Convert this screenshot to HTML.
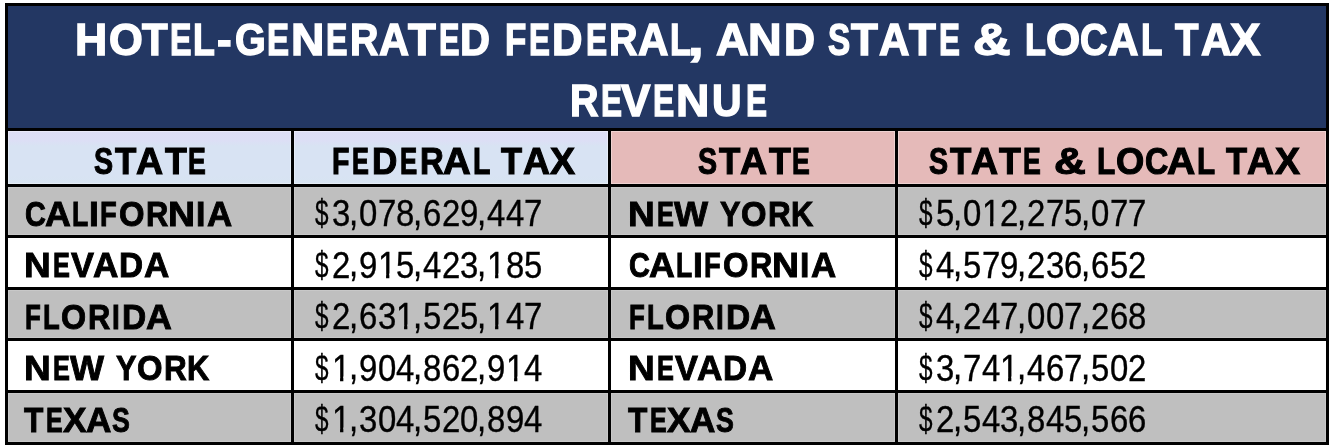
<!DOCTYPE html>
<html><head><meta charset="utf-8"><title>Hotel-Generated Federal, and State &amp; Local Tax Revenue</title><style>
html,body{margin:0;padding:0;background:#fff;width:1335px;height:448px;overflow:hidden}
.box{position:absolute;left:5px;top:3px;width:1324px;height:442px;background:#000}
.c{position:absolute}
.tl{position:absolute;left:0;top:0;width:1335px;height:448px;will-change:transform}
.t{position:absolute;font-family:"Liberation Sans",sans-serif;line-height:1;white-space:pre;transform-origin:0 0}
.cm{transform-origin:0 .85em}
.one{clip-path:polygon(0 0,100% 0,100% .7em,.345em .7em,.345em 100%,.245em 100%,.245em .7em,0 .7em)}
</style></head><body>
<div class="box"></div>
<div class="c" style="left:8px;top:6px;width:1318px;height:122px;background:#233763"></div>
<div class="c" style="left:8px;top:131px;width:283px;height:53px;background:#D8E3F3;box-shadow:inset 0 0 0 1px rgba(255,255,255,0.35)"></div>
<div class="c" style="left:294px;top:131px;width:314px;height:53px;background:#D8E3F3;box-shadow:inset 0 0 0 1px rgba(255,255,255,0.35)"></div>
<div class="c" style="left:611px;top:131px;width:284px;height:53px;background:#E5BAB9;box-shadow:inset 0 0 0 1px rgba(255,255,255,0.35)"></div>
<div class="c" style="left:898px;top:131px;width:428px;height:53px;background:#E5BAB9;box-shadow:inset 0 0 0 1px rgba(255,255,255,0.35)"></div>
<div class="c" style="left:8px;top:131px;width:283px;height:53px;background:linear-gradient(#DDDEF5 0px,#DCDFF5 10px,#D8E3F3 15px,#D8E3F3 44px,#D7E4F1 53px);box-shadow:inset 0 0 0 1px rgba(255,255,255,0.35)"></div>
<div class="c" style="left:294px;top:131px;width:314px;height:53px;background:linear-gradient(#DDDEF5 0px,#DCDFF5 10px,#D8E3F3 15px,#D8E3F3 44px,#D7E4F1 53px);box-shadow:inset 0 0 0 1px rgba(255,255,255,0.35)"></div>
<div class="c" style="left:8px;top:187px;width:283px;height:48px;background:#BFBFBF;box-shadow:inset 0 0 0 1px rgba(255,255,255,0.15)"></div>
<div class="c" style="left:294px;top:187px;width:314px;height:48px;background:#BFBFBF;box-shadow:inset 0 0 0 1px rgba(255,255,255,0.15)"></div>
<div class="c" style="left:611px;top:187px;width:284px;height:48px;background:#BFBFBF;box-shadow:inset 0 0 0 1px rgba(255,255,255,0.15)"></div>
<div class="c" style="left:898px;top:187px;width:428px;height:48px;background:#BFBFBF;box-shadow:inset 0 0 0 1px rgba(255,255,255,0.15)"></div>
<div class="c" style="left:8px;top:238px;width:283px;height:49px;background:#fff"></div>
<div class="c" style="left:294px;top:238px;width:314px;height:49px;background:#fff"></div>
<div class="c" style="left:611px;top:238px;width:284px;height:49px;background:#fff"></div>
<div class="c" style="left:898px;top:238px;width:428px;height:49px;background:#fff"></div>
<div class="c" style="left:8px;top:290px;width:283px;height:48px;background:#BFBFBF;box-shadow:inset 0 0 0 1px rgba(255,255,255,0.15)"></div>
<div class="c" style="left:294px;top:290px;width:314px;height:48px;background:#BFBFBF;box-shadow:inset 0 0 0 1px rgba(255,255,255,0.15)"></div>
<div class="c" style="left:611px;top:290px;width:284px;height:48px;background:#BFBFBF;box-shadow:inset 0 0 0 1px rgba(255,255,255,0.15)"></div>
<div class="c" style="left:898px;top:290px;width:428px;height:48px;background:#BFBFBF;box-shadow:inset 0 0 0 1px rgba(255,255,255,0.15)"></div>
<div class="c" style="left:8px;top:341px;width:283px;height:49px;background:#fff"></div>
<div class="c" style="left:294px;top:341px;width:314px;height:49px;background:#fff"></div>
<div class="c" style="left:611px;top:341px;width:284px;height:49px;background:#fff"></div>
<div class="c" style="left:898px;top:341px;width:428px;height:49px;background:#fff"></div>
<div class="c" style="left:8px;top:393px;width:283px;height:49px;background:#BFBFBF;box-shadow:inset 0 0 0 1px rgba(255,255,255,0.15)"></div>
<div class="c" style="left:294px;top:393px;width:314px;height:49px;background:#BFBFBF;box-shadow:inset 0 0 0 1px rgba(255,255,255,0.15)"></div>
<div class="c" style="left:611px;top:393px;width:284px;height:49px;background:#BFBFBF;box-shadow:inset 0 0 0 1px rgba(255,255,255,0.15)"></div>
<div class="c" style="left:898px;top:393px;width:428px;height:49px;background:#BFBFBF;box-shadow:inset 0 0 0 1px rgba(255,255,255,0.15)"></div>
<div class="tl">
<span class="t" style="left:74.66px;top:19.00px;font-size:43.6px;font-weight:700;color:#fff;-webkit-text-stroke:1.4px #fff;transform:scaleX(1.0222)">H</span>
<span class="t" style="left:108.50px;top:19.00px;font-size:43.6px;font-weight:700;color:#fff;-webkit-text-stroke:1.4px #fff;transform:scaleX(0.9969)">O</span>
<span class="t" style="left:141.80px;top:19.00px;font-size:43.6px;font-weight:700;color:#fff;-webkit-text-stroke:1.4px #fff;transform:scaleX(0.9630)">T</span>
<span class="t" style="left:170.22px;top:19.00px;font-size:43.6px;font-weight:700;color:#fff;-webkit-text-stroke:1.4px #fff;transform:scaleX(0.7385)">E</span>
<span class="t" style="left:193.46px;top:19.00px;font-size:43.6px;font-weight:700;color:#fff;-webkit-text-stroke:1.4px #fff;transform:scaleX(0.8208)">L</span>
<span class="t" style="left:217.09px;top:19.00px;font-size:43.6px;font-weight:700;color:#fff;-webkit-text-stroke:1.4px #fff;transform:scaleX(1.0077)">-</span>
<span class="t" style="left:234.69px;top:19.00px;font-size:43.6px;font-weight:700;color:#fff;-webkit-text-stroke:1.4px #fff;transform:scaleX(0.9065)">G</span>
<span class="t" style="left:266.88px;top:19.00px;font-size:43.6px;font-weight:700;color:#fff;-webkit-text-stroke:1.4px #fff;transform:scaleX(0.7577)">E</span>
<span class="t" style="left:290.68px;top:19.00px;font-size:43.6px;font-weight:700;color:#fff;-webkit-text-stroke:1.4px #fff;transform:scaleX(1.0593)">N</span>
<span class="t" style="left:326.02px;top:19.00px;font-size:43.6px;font-weight:700;color:#fff;-webkit-text-stroke:1.4px #fff;transform:scaleX(0.7385)">E</span>
<span class="t" style="left:350.09px;top:19.00px;font-size:43.6px;font-weight:700;color:#fff;-webkit-text-stroke:1.4px #fff;transform:scaleX(0.9034)">R</span>
<span class="t" style="left:379.00px;top:19.00px;font-size:43.6px;font-weight:700;color:#fff;-webkit-text-stroke:1.4px #fff;transform:scaleX(0.9548)">A</span>
<span class="t" style="left:408.40px;top:19.00px;font-size:43.6px;font-weight:700;color:#fff;-webkit-text-stroke:1.4px #fff;transform:scaleX(1.0444)">T</span>
<span class="t" style="left:438.89px;top:19.00px;font-size:43.6px;font-weight:700;color:#fff;-webkit-text-stroke:1.4px #fff;transform:scaleX(0.7038)">E</span>
<span class="t" style="left:460.39px;top:19.00px;font-size:43.6px;font-weight:700;color:#fff;-webkit-text-stroke:1.4px #fff;transform:scaleX(0.9536)">D</span>
<span class="t" style="left:505.40px;top:19.00px;font-size:43.6px;font-weight:700;color:#fff;-webkit-text-stroke:1.4px #fff;transform:scaleX(0.8000)">F</span>
<span class="t" style="left:529.06px;top:19.00px;font-size:43.6px;font-weight:700;color:#fff;-webkit-text-stroke:1.4px #fff;transform:scaleX(0.7192)">E</span>
<span class="t" style="left:552.46px;top:19.00px;font-size:43.6px;font-weight:700;color:#fff;-webkit-text-stroke:1.4px #fff;transform:scaleX(0.9679)">D</span>
<span class="t" style="left:585.85px;top:19.00px;font-size:43.6px;font-weight:700;color:#fff;-webkit-text-stroke:1.4px #fff;transform:scaleX(0.7269)">E</span>
<span class="t" style="left:609.09px;top:19.00px;font-size:43.6px;font-weight:700;color:#fff;-webkit-text-stroke:1.4px #fff;transform:scaleX(0.9069)">R</span>
<span class="t" style="left:637.60px;top:19.00px;font-size:43.6px;font-weight:700;color:#fff;-webkit-text-stroke:1.4px #fff;transform:scaleX(0.9677)">A</span>
<span class="t" style="left:669.92px;top:19.00px;font-size:43.6px;font-weight:700;color:#fff;-webkit-text-stroke:1.4px #fff;transform:scaleX(0.7875)">L</span>
<span class="t" style="left:688.42px;top:19.00px;font-size:43.6px;font-weight:700;color:#fff;-webkit-text-stroke:1.4px #fff;transform:scaleX(1.2875)">,</span>
<span class="t" style="left:715.80px;top:19.00px;font-size:43.6px;font-weight:700;color:#fff;-webkit-text-stroke:1.4px #fff;transform:scaleX(1.0387)">A</span>
<span class="t" style="left:748.47px;top:19.00px;font-size:43.6px;font-weight:700;color:#fff;-webkit-text-stroke:1.4px #fff;transform:scaleX(1.0667)">N</span>
<span class="t" style="left:783.53px;top:19.00px;font-size:43.6px;font-weight:700;color:#fff;-webkit-text-stroke:1.4px #fff;transform:scaleX(0.9857)">D</span>
<span class="t" style="left:828.14px;top:19.00px;font-size:43.6px;font-weight:700;color:#fff;-webkit-text-stroke:1.4px #fff;transform:scaleX(0.7630)">S</span>
<span class="t" style="left:850.90px;top:19.00px;font-size:43.6px;font-weight:700;color:#fff;-webkit-text-stroke:1.4px #fff;transform:scaleX(1.0074)">T</span>
<span class="t" style="left:878.60px;top:19.00px;font-size:43.6px;font-weight:700;color:#fff;-webkit-text-stroke:1.4px #fff;transform:scaleX(0.9677)">A</span>
<span class="t" style="left:909.40px;top:19.00px;font-size:43.6px;font-weight:700;color:#fff;-webkit-text-stroke:1.4px #fff;transform:scaleX(1.0074)">T</span>
<span class="t" style="left:938.86px;top:19.00px;font-size:43.6px;font-weight:700;color:#fff;-webkit-text-stroke:1.4px #fff;transform:scaleX(0.7192)">E</span>
<span class="t" style="left:973.01px;top:19.00px;font-size:43.6px;font-weight:700;color:#fff;-webkit-text-stroke:1.4px #fff;transform:scaleX(1.1933)">&amp;</span>
<span class="t" style="left:1024.83px;top:19.00px;font-size:43.6px;font-weight:700;color:#fff;-webkit-text-stroke:1.4px #fff;transform:scaleX(0.7875)">L</span>
<span class="t" style="left:1045.69px;top:19.00px;font-size:43.6px;font-weight:700;color:#fff;-webkit-text-stroke:1.4px #fff;transform:scaleX(1.0094)">O</span>
<span class="t" style="left:1080.02px;top:19.00px;font-size:43.6px;font-weight:700;color:#fff;-webkit-text-stroke:1.4px #fff;transform:scaleX(0.8767)">C</span>
<span class="t" style="left:1108.00px;top:19.00px;font-size:43.6px;font-weight:700;color:#fff;-webkit-text-stroke:1.4px #fff;transform:scaleX(0.9677)">A</span>
<span class="t" style="left:1140.99px;top:19.00px;font-size:43.6px;font-weight:700;color:#fff;-webkit-text-stroke:1.4px #fff;transform:scaleX(0.8042)">L</span>
<span class="t" style="left:1175.20px;top:19.00px;font-size:43.6px;font-weight:700;color:#fff;-webkit-text-stroke:1.4px #fff;transform:scaleX(0.8815)">T</span>
<span class="t" style="left:1200.90px;top:19.00px;font-size:43.6px;font-weight:700;color:#fff;-webkit-text-stroke:1.4px #fff;transform:scaleX(0.9677)">A</span>
<span class="t" style="left:1230.20px;top:19.00px;font-size:43.6px;font-weight:700;color:#fff;-webkit-text-stroke:1.4px #fff;transform:scaleX(1.0467)">X</span>
<span class="t" style="left:570.19px;top:80.00px;font-size:43.6px;font-weight:700;color:#fff;-webkit-text-stroke:1.4px #fff;transform:scaleX(0.9069)">R</span>
<span class="t" style="left:600.55px;top:80.00px;font-size:43.6px;font-weight:700;color:#fff;-webkit-text-stroke:1.4px #fff;transform:scaleX(0.7231)">E</span>
<span class="t" style="left:621.30px;top:80.00px;font-size:43.6px;font-weight:700;color:#fff;-webkit-text-stroke:1.4px #fff;transform:scaleX(1.0133)">V</span>
<span class="t" style="left:653.44px;top:80.00px;font-size:43.6px;font-weight:700;color:#fff;-webkit-text-stroke:1.4px #fff;transform:scaleX(0.7308)">E</span>
<span class="t" style="left:676.48px;top:80.00px;font-size:43.6px;font-weight:700;color:#fff;-webkit-text-stroke:1.4px #fff;transform:scaleX(1.0593)">N</span>
<span class="t" style="left:711.82px;top:80.00px;font-size:43.6px;font-weight:700;color:#fff;-webkit-text-stroke:1.4px #fff;transform:scaleX(0.9393)">U</span>
<span class="t" style="left:745.55px;top:80.00px;font-size:43.6px;font-weight:700;color:#fff;-webkit-text-stroke:1.4px #fff;transform:scaleX(0.7231)">E</span>
<span class="t" style="left:94.13px;top:143.00px;font-size:37.4px;font-weight:700;color:#000;-webkit-text-stroke:1.1px #000;transform:scaleX(0.7652)">S</span>
<span class="t" style="left:115.20px;top:143.00px;font-size:37.4px;font-weight:700;color:#000;-webkit-text-stroke:1.1px #000;transform:scaleX(0.9348)">T</span>
<span class="t" style="left:136.20px;top:143.00px;font-size:37.4px;font-weight:700;color:#000;-webkit-text-stroke:1.1px #000;transform:scaleX(1.0038)">A</span>
<span class="t" style="left:164.60px;top:143.00px;font-size:37.4px;font-weight:700;color:#000;-webkit-text-stroke:1.1px #000;transform:scaleX(0.9565)">T</span>
<span class="t" style="left:188.37px;top:143.00px;font-size:37.4px;font-weight:700;color:#000;-webkit-text-stroke:1.1px #000;transform:scaleX(0.7136)">E</span>
<span class="t" style="left:331.57px;top:143.00px;font-size:37.4px;font-weight:700;color:#000;-webkit-text-stroke:1.1px #000;transform:scaleX(0.7650)">F</span>
<span class="t" style="left:351.65px;top:143.00px;font-size:37.4px;font-weight:700;color:#000;-webkit-text-stroke:1.1px #000;transform:scaleX(0.6773)">E</span>
<span class="t" style="left:371.52px;top:143.00px;font-size:37.4px;font-weight:700;color:#000;-webkit-text-stroke:1.1px #000;transform:scaleX(0.9375)">D</span>
<span class="t" style="left:399.62px;top:143.00px;font-size:37.4px;font-weight:700;color:#000;-webkit-text-stroke:1.1px #000;transform:scaleX(0.6909)">E</span>
<span class="t" style="left:420.14px;top:143.00px;font-size:37.4px;font-weight:700;color:#000;-webkit-text-stroke:1.1px #000;transform:scaleX(0.8800)">R</span>
<span class="t" style="left:443.37px;top:143.00px;font-size:37.4px;font-weight:700;color:#000;-webkit-text-stroke:1.1px #000;transform:scaleX(1.0269)">A</span>
<span class="t" style="left:473.37px;top:143.00px;font-size:37.4px;font-weight:700;color:#000;-webkit-text-stroke:1.1px #000;transform:scaleX(0.7650)">L</span>
<span class="t" style="left:501.40px;top:143.00px;font-size:37.4px;font-weight:700;color:#000;-webkit-text-stroke:1.1px #000;transform:scaleX(0.9217)">T</span>
<span class="t" style="left:522.80px;top:143.00px;font-size:37.4px;font-weight:700;color:#000;-webkit-text-stroke:1.1px #000;transform:scaleX(0.9962)">A</span>
<span class="t" style="left:550.10px;top:143.00px;font-size:37.4px;font-weight:700;color:#000;-webkit-text-stroke:1.1px #000;transform:scaleX(1.0040)">X</span>
<span class="t" style="left:698.03px;top:143.00px;font-size:37.4px;font-weight:700;color:#000;-webkit-text-stroke:1.1px #000;transform:scaleX(0.7652)">S</span>
<span class="t" style="left:719.10px;top:143.00px;font-size:37.4px;font-weight:700;color:#000;-webkit-text-stroke:1.1px #000;transform:scaleX(0.9348)">T</span>
<span class="t" style="left:740.10px;top:143.00px;font-size:37.4px;font-weight:700;color:#000;-webkit-text-stroke:1.1px #000;transform:scaleX(1.0038)">A</span>
<span class="t" style="left:768.50px;top:143.00px;font-size:37.4px;font-weight:700;color:#000;-webkit-text-stroke:1.1px #000;transform:scaleX(0.9565)">T</span>
<span class="t" style="left:792.27px;top:143.00px;font-size:37.4px;font-weight:700;color:#000;-webkit-text-stroke:1.1px #000;transform:scaleX(0.7136)">E</span>
<span class="t" style="left:928.63px;top:143.00px;font-size:37.4px;font-weight:700;color:#000;-webkit-text-stroke:1.1px #000;transform:scaleX(0.7652)">S</span>
<span class="t" style="left:949.70px;top:143.00px;font-size:37.4px;font-weight:700;color:#000;-webkit-text-stroke:1.1px #000;transform:scaleX(0.9348)">T</span>
<span class="t" style="left:970.70px;top:143.00px;font-size:37.4px;font-weight:700;color:#000;-webkit-text-stroke:1.1px #000;transform:scaleX(1.0038)">A</span>
<span class="t" style="left:999.10px;top:143.00px;font-size:37.4px;font-weight:700;color:#000;-webkit-text-stroke:1.1px #000;transform:scaleX(0.9565)">T</span>
<span class="t" style="left:1022.87px;top:143.00px;font-size:37.4px;font-weight:700;color:#000;-webkit-text-stroke:1.1px #000;transform:scaleX(0.7136)">E</span>
<span class="t" style="left:1053.82px;top:143.00px;font-size:37.4px;font-weight:700;color:#000;-webkit-text-stroke:1.1px #000;transform:scaleX(1.1800)">&amp;</span>
<span class="t" style="left:1097.10px;top:143.00px;font-size:37.4px;font-weight:700;color:#000;-webkit-text-stroke:1.1px #000;transform:scaleX(0.8000)">L</span>
<span class="t" style="left:1116.03px;top:143.00px;font-size:37.4px;font-weight:700;color:#000;-webkit-text-stroke:1.1px #000;transform:scaleX(0.9704)">O</span>
<span class="t" style="left:1145.14px;top:143.00px;font-size:37.4px;font-weight:700;color:#000;-webkit-text-stroke:1.1px #000;transform:scaleX(0.8640)">C</span>
<span class="t" style="left:1166.95px;top:143.00px;font-size:37.4px;font-weight:700;color:#000;-webkit-text-stroke:1.1px #000;transform:scaleX(1.0462)">A</span>
<span class="t" style="left:1196.91px;top:143.00px;font-size:37.4px;font-weight:700;color:#000;-webkit-text-stroke:1.1px #000;transform:scaleX(0.7950)">L</span>
<span class="t" style="left:1226.00px;top:143.00px;font-size:37.4px;font-weight:700;color:#000;-webkit-text-stroke:1.1px #000;transform:scaleX(0.9217)">T</span>
<span class="t" style="left:1247.40px;top:143.00px;font-size:37.4px;font-weight:700;color:#000;-webkit-text-stroke:1.1px #000;transform:scaleX(0.9962)">A</span>
<span class="t" style="left:1274.70px;top:143.00px;font-size:37.4px;font-weight:700;color:#000;-webkit-text-stroke:1.1px #000;transform:scaleX(1.0040)">X</span>
<span class="t" style="left:24.56px;top:195.88px;font-size:34.3px;font-weight:700;color:#000;-webkit-text-stroke:0.9px #000;transform:scaleX(0.8435) scaleY(1.03)">C</span>
<span class="t" style="left:45.36px;top:195.88px;font-size:34.3px;font-weight:700;color:#000;-webkit-text-stroke:0.9px #000;transform:scaleX(1.0435) scaleY(1.03)">A</span>
<span class="t" style="left:72.14px;top:195.88px;font-size:34.3px;font-weight:700;color:#000;-webkit-text-stroke:0.9px #000;transform:scaleX(0.7778) scaleY(1.03)">L</span>
<span class="t" style="left:88.93px;top:195.88px;font-size:34.3px;font-weight:700;color:#000;-webkit-text-stroke:0.9px #000;transform:scaleX(1.0333) scaleY(1.03)">I</span>
<span class="t" style="left:100.20px;top:195.88px;font-size:34.3px;font-weight:700;color:#000;-webkit-text-stroke:0.9px #000;transform:scaleX(0.8000) scaleY(1.03)">F</span>
<span class="t" style="left:118.94px;top:195.88px;font-size:34.3px;font-weight:700;color:#000;-webkit-text-stroke:0.9px #000;transform:scaleX(0.9560) scaleY(1.03)">O</span>
<span class="t" style="left:146.00px;top:195.88px;font-size:34.3px;font-weight:700;color:#000;-webkit-text-stroke:0.9px #000;transform:scaleX(0.9000) scaleY(1.03)">R</span>
<span class="t" style="left:168.12px;top:195.88px;font-size:34.3px;font-weight:700;color:#000;-webkit-text-stroke:0.9px #000;transform:scaleX(1.0905) scaleY(1.03)">N</span>
<span class="t" style="left:196.13px;top:195.88px;font-size:34.3px;font-weight:700;color:#000;-webkit-text-stroke:0.9px #000;transform:scaleX(0.9833) scaleY(1.03)">I</span>
<span class="t" style="left:206.58px;top:195.88px;font-size:34.3px;font-weight:700;color:#000;-webkit-text-stroke:0.9px #000;transform:scaleX(1.0174) scaleY(1.03)">A</span>
<span class="t" style="left:628.04px;top:195.88px;font-size:34.3px;font-weight:700;color:#000;-webkit-text-stroke:0.9px #000;transform:scaleX(1.0810) scaleY(1.03)">N</span>
<span class="t" style="left:657.22px;top:195.88px;font-size:34.3px;font-weight:700;color:#000;-webkit-text-stroke:0.9px #000;transform:scaleX(0.7400) scaleY(1.03)">E</span>
<span class="t" style="left:674.40px;top:195.88px;font-size:34.3px;font-weight:700;color:#000;-webkit-text-stroke:0.9px #000;transform:scaleX(1.0515) scaleY(1.03)">W</span>
<span class="t" style="left:719.80px;top:195.88px;font-size:34.3px;font-weight:700;color:#000;-webkit-text-stroke:0.9px #000;transform:scaleX(0.8957) scaleY(1.03)">Y</span>
<span class="t" style="left:740.74px;top:195.88px;font-size:34.3px;font-weight:700;color:#000;-webkit-text-stroke:0.9px #000;transform:scaleX(0.9560) scaleY(1.03)">O</span>
<span class="t" style="left:768.36px;top:195.88px;font-size:34.3px;font-weight:700;color:#000;-webkit-text-stroke:0.9px #000;transform:scaleX(0.9182) scaleY(1.03)">R</span>
<span class="t" style="left:791.10px;top:195.88px;font-size:34.3px;font-weight:700;color:#000;-webkit-text-stroke:0.9px #000;transform:scaleX(0.9000) scaleY(1.03)">K</span>
<span class="t" style="left:314.50px;top:196.25px;font-size:35.5px;font-weight:400;color:#000;-webkit-text-stroke:0.3px #000;transform:scaleX(0.6842) scaleY(1.03)">$</span>
<span class="t" style="left:331.80px;top:196.40px;font-size:35.5px;font-weight:400;color:#000;-webkit-text-stroke:0.35px #000;transform:scaleX(0.9269) scaleY(1.03)">3</span>
<span class="t cm" style="left:348.79px;top:195.90px;font-size:35.5px;font-weight:400;color:#000;-webkit-text-stroke:0.35px #000;transform:scaleX(0.9269) scaleY(1.15)">,</span>
<span class="t" style="left:359.24px;top:196.40px;font-size:35.5px;font-weight:400;color:#000;-webkit-text-stroke:0.35px #000;transform:scaleX(0.9269) scaleY(1.03)">0</span>
<span class="t" style="left:377.54px;top:196.40px;font-size:35.5px;font-weight:400;color:#000;-webkit-text-stroke:0.35px #000;transform:scaleX(0.9269) scaleY(1.03)">7</span>
<span class="t" style="left:395.83px;top:196.40px;font-size:35.5px;font-weight:400;color:#000;-webkit-text-stroke:0.35px #000;transform:scaleX(0.9269) scaleY(1.03)">8</span>
<span class="t cm" style="left:412.83px;top:195.90px;font-size:35.5px;font-weight:400;color:#000;-webkit-text-stroke:0.35px #000;transform:scaleX(0.9269) scaleY(1.15)">,</span>
<span class="t" style="left:423.28px;top:196.40px;font-size:35.5px;font-weight:400;color:#000;-webkit-text-stroke:0.35px #000;transform:scaleX(0.9269) scaleY(1.03)">6</span>
<span class="t" style="left:441.57px;top:196.40px;font-size:35.5px;font-weight:400;color:#000;-webkit-text-stroke:0.35px #000;transform:scaleX(0.9269) scaleY(1.03)">2</span>
<span class="t" style="left:459.87px;top:196.40px;font-size:35.5px;font-weight:400;color:#000;-webkit-text-stroke:0.35px #000;transform:scaleX(0.9269) scaleY(1.03)">9</span>
<span class="t cm" style="left:476.86px;top:195.90px;font-size:35.5px;font-weight:400;color:#000;-webkit-text-stroke:0.35px #000;transform:scaleX(0.9269) scaleY(1.15)">,</span>
<span class="t" style="left:487.31px;top:196.40px;font-size:35.5px;font-weight:400;color:#000;-webkit-text-stroke:0.35px #000;transform:scaleX(0.9269) scaleY(1.03)">4</span>
<span class="t" style="left:505.61px;top:196.40px;font-size:35.5px;font-weight:400;color:#000;-webkit-text-stroke:0.35px #000;transform:scaleX(0.9269) scaleY(1.03)">4</span>
<span class="t" style="left:523.90px;top:196.40px;font-size:35.5px;font-weight:400;color:#000;-webkit-text-stroke:0.35px #000;transform:scaleX(0.9269) scaleY(1.03)">7</span>
<span class="t" style="left:918.50px;top:196.25px;font-size:35.5px;font-weight:400;color:#000;-webkit-text-stroke:0.3px #000;transform:scaleX(0.6842) scaleY(1.03)">$</span>
<span class="t" style="left:935.80px;top:196.40px;font-size:35.5px;font-weight:400;color:#000;-webkit-text-stroke:0.35px #000;transform:scaleX(0.9269) scaleY(1.03)">5</span>
<span class="t cm" style="left:952.79px;top:195.90px;font-size:35.5px;font-weight:400;color:#000;-webkit-text-stroke:0.35px #000;transform:scaleX(0.9269) scaleY(1.15)">,</span>
<span class="t" style="left:963.24px;top:196.40px;font-size:35.5px;font-weight:400;color:#000;-webkit-text-stroke:0.35px #000;transform:scaleX(0.9269) scaleY(1.03)">0</span>
<span class="t one" style="left:981.54px;top:196.40px;font-size:35.5px;font-weight:400;color:#000;-webkit-text-stroke:0.35px #000;transform:scaleX(0.9269) scaleY(1.03)">1</span>
<span class="t" style="left:999.83px;top:196.40px;font-size:35.5px;font-weight:400;color:#000;-webkit-text-stroke:0.35px #000;transform:scaleX(0.9269) scaleY(1.03)">2</span>
<span class="t cm" style="left:1016.83px;top:195.90px;font-size:35.5px;font-weight:400;color:#000;-webkit-text-stroke:0.35px #000;transform:scaleX(0.9269) scaleY(1.15)">,</span>
<span class="t" style="left:1027.28px;top:196.40px;font-size:35.5px;font-weight:400;color:#000;-webkit-text-stroke:0.35px #000;transform:scaleX(0.9269) scaleY(1.03)">2</span>
<span class="t" style="left:1045.57px;top:196.40px;font-size:35.5px;font-weight:400;color:#000;-webkit-text-stroke:0.35px #000;transform:scaleX(0.9269) scaleY(1.03)">7</span>
<span class="t" style="left:1063.87px;top:196.40px;font-size:35.5px;font-weight:400;color:#000;-webkit-text-stroke:0.35px #000;transform:scaleX(0.9269) scaleY(1.03)">5</span>
<span class="t cm" style="left:1080.86px;top:195.90px;font-size:35.5px;font-weight:400;color:#000;-webkit-text-stroke:0.35px #000;transform:scaleX(0.9269) scaleY(1.15)">,</span>
<span class="t" style="left:1091.31px;top:196.40px;font-size:35.5px;font-weight:400;color:#000;-webkit-text-stroke:0.35px #000;transform:scaleX(0.9269) scaleY(1.03)">0</span>
<span class="t" style="left:1109.61px;top:196.40px;font-size:35.5px;font-weight:400;color:#000;-webkit-text-stroke:0.35px #000;transform:scaleX(0.9269) scaleY(1.03)">7</span>
<span class="t" style="left:1127.90px;top:196.40px;font-size:35.5px;font-weight:400;color:#000;-webkit-text-stroke:0.35px #000;transform:scaleX(0.9269) scaleY(1.03)">7</span>
<span class="t" style="left:24.04px;top:247.18px;font-size:34.3px;font-weight:700;color:#000;-webkit-text-stroke:0.9px #000;transform:scaleX(1.0810) scaleY(1.03)">N</span>
<span class="t" style="left:53.22px;top:247.18px;font-size:34.3px;font-weight:700;color:#000;-webkit-text-stroke:0.9px #000;transform:scaleX(0.7400) scaleY(1.03)">E</span>
<span class="t" style="left:70.80px;top:247.18px;font-size:34.3px;font-weight:700;color:#000;-webkit-text-stroke:0.9px #000;transform:scaleX(1.0043) scaleY(1.03)">V</span>
<span class="t" style="left:93.47px;top:247.18px;font-size:34.3px;font-weight:700;color:#000;-webkit-text-stroke:0.9px #000;transform:scaleX(1.0261) scaleY(1.03)">A</span>
<span class="t" style="left:119.45px;top:247.18px;font-size:34.3px;font-weight:700;color:#000;-webkit-text-stroke:0.9px #000;transform:scaleX(0.9727) scaleY(1.03)">D</span>
<span class="t" style="left:143.88px;top:247.18px;font-size:34.3px;font-weight:700;color:#000;-webkit-text-stroke:0.9px #000;transform:scaleX(1.0217) scaleY(1.03)">A</span>
<span class="t" style="left:628.56px;top:247.18px;font-size:34.3px;font-weight:700;color:#000;-webkit-text-stroke:0.9px #000;transform:scaleX(0.8435) scaleY(1.03)">C</span>
<span class="t" style="left:649.36px;top:247.18px;font-size:34.3px;font-weight:700;color:#000;-webkit-text-stroke:0.9px #000;transform:scaleX(1.0435) scaleY(1.03)">A</span>
<span class="t" style="left:676.14px;top:247.18px;font-size:34.3px;font-weight:700;color:#000;-webkit-text-stroke:0.9px #000;transform:scaleX(0.7778) scaleY(1.03)">L</span>
<span class="t" style="left:692.93px;top:247.18px;font-size:34.3px;font-weight:700;color:#000;-webkit-text-stroke:0.9px #000;transform:scaleX(1.0333) scaleY(1.03)">I</span>
<span class="t" style="left:704.20px;top:247.18px;font-size:34.3px;font-weight:700;color:#000;-webkit-text-stroke:0.9px #000;transform:scaleX(0.8000) scaleY(1.03)">F</span>
<span class="t" style="left:722.94px;top:247.18px;font-size:34.3px;font-weight:700;color:#000;-webkit-text-stroke:0.9px #000;transform:scaleX(0.9560) scaleY(1.03)">O</span>
<span class="t" style="left:750.00px;top:247.18px;font-size:34.3px;font-weight:700;color:#000;-webkit-text-stroke:0.9px #000;transform:scaleX(0.9000) scaleY(1.03)">R</span>
<span class="t" style="left:772.12px;top:247.18px;font-size:34.3px;font-weight:700;color:#000;-webkit-text-stroke:0.9px #000;transform:scaleX(1.0905) scaleY(1.03)">N</span>
<span class="t" style="left:800.13px;top:247.18px;font-size:34.3px;font-weight:700;color:#000;-webkit-text-stroke:0.9px #000;transform:scaleX(0.9833) scaleY(1.03)">I</span>
<span class="t" style="left:810.58px;top:247.18px;font-size:34.3px;font-weight:700;color:#000;-webkit-text-stroke:0.9px #000;transform:scaleX(1.0174) scaleY(1.03)">A</span>
<span class="t" style="left:314.50px;top:247.55px;font-size:35.5px;font-weight:400;color:#000;-webkit-text-stroke:0.3px #000;transform:scaleX(0.6842) scaleY(1.03)">$</span>
<span class="t" style="left:331.80px;top:247.70px;font-size:35.5px;font-weight:400;color:#000;-webkit-text-stroke:0.35px #000;transform:scaleX(0.9269) scaleY(1.03)">2</span>
<span class="t cm" style="left:348.79px;top:247.20px;font-size:35.5px;font-weight:400;color:#000;-webkit-text-stroke:0.35px #000;transform:scaleX(0.9269) scaleY(1.15)">,</span>
<span class="t" style="left:359.24px;top:247.70px;font-size:35.5px;font-weight:400;color:#000;-webkit-text-stroke:0.35px #000;transform:scaleX(0.9269) scaleY(1.03)">9</span>
<span class="t one" style="left:377.54px;top:247.70px;font-size:35.5px;font-weight:400;color:#000;-webkit-text-stroke:0.35px #000;transform:scaleX(0.9269) scaleY(1.03)">1</span>
<span class="t" style="left:395.83px;top:247.70px;font-size:35.5px;font-weight:400;color:#000;-webkit-text-stroke:0.35px #000;transform:scaleX(0.9269) scaleY(1.03)">5</span>
<span class="t cm" style="left:412.83px;top:247.20px;font-size:35.5px;font-weight:400;color:#000;-webkit-text-stroke:0.35px #000;transform:scaleX(0.9269) scaleY(1.15)">,</span>
<span class="t" style="left:423.28px;top:247.70px;font-size:35.5px;font-weight:400;color:#000;-webkit-text-stroke:0.35px #000;transform:scaleX(0.9269) scaleY(1.03)">4</span>
<span class="t" style="left:441.57px;top:247.70px;font-size:35.5px;font-weight:400;color:#000;-webkit-text-stroke:0.35px #000;transform:scaleX(0.9269) scaleY(1.03)">2</span>
<span class="t" style="left:459.87px;top:247.70px;font-size:35.5px;font-weight:400;color:#000;-webkit-text-stroke:0.35px #000;transform:scaleX(0.9269) scaleY(1.03)">3</span>
<span class="t cm" style="left:476.86px;top:247.20px;font-size:35.5px;font-weight:400;color:#000;-webkit-text-stroke:0.35px #000;transform:scaleX(0.9269) scaleY(1.15)">,</span>
<span class="t one" style="left:487.31px;top:247.70px;font-size:35.5px;font-weight:400;color:#000;-webkit-text-stroke:0.35px #000;transform:scaleX(0.9269) scaleY(1.03)">1</span>
<span class="t" style="left:505.61px;top:247.70px;font-size:35.5px;font-weight:400;color:#000;-webkit-text-stroke:0.35px #000;transform:scaleX(0.9269) scaleY(1.03)">8</span>
<span class="t" style="left:523.90px;top:247.70px;font-size:35.5px;font-weight:400;color:#000;-webkit-text-stroke:0.35px #000;transform:scaleX(0.9269) scaleY(1.03)">5</span>
<span class="t" style="left:918.50px;top:247.55px;font-size:35.5px;font-weight:400;color:#000;-webkit-text-stroke:0.3px #000;transform:scaleX(0.6842) scaleY(1.03)">$</span>
<span class="t" style="left:935.80px;top:247.70px;font-size:35.5px;font-weight:400;color:#000;-webkit-text-stroke:0.35px #000;transform:scaleX(0.9269) scaleY(1.03)">4</span>
<span class="t cm" style="left:952.79px;top:247.20px;font-size:35.5px;font-weight:400;color:#000;-webkit-text-stroke:0.35px #000;transform:scaleX(0.9269) scaleY(1.15)">,</span>
<span class="t" style="left:963.24px;top:247.70px;font-size:35.5px;font-weight:400;color:#000;-webkit-text-stroke:0.35px #000;transform:scaleX(0.9269) scaleY(1.03)">5</span>
<span class="t" style="left:981.54px;top:247.70px;font-size:35.5px;font-weight:400;color:#000;-webkit-text-stroke:0.35px #000;transform:scaleX(0.9269) scaleY(1.03)">7</span>
<span class="t" style="left:999.83px;top:247.70px;font-size:35.5px;font-weight:400;color:#000;-webkit-text-stroke:0.35px #000;transform:scaleX(0.9269) scaleY(1.03)">9</span>
<span class="t cm" style="left:1016.83px;top:247.20px;font-size:35.5px;font-weight:400;color:#000;-webkit-text-stroke:0.35px #000;transform:scaleX(0.9269) scaleY(1.15)">,</span>
<span class="t" style="left:1027.28px;top:247.70px;font-size:35.5px;font-weight:400;color:#000;-webkit-text-stroke:0.35px #000;transform:scaleX(0.9269) scaleY(1.03)">2</span>
<span class="t" style="left:1045.57px;top:247.70px;font-size:35.5px;font-weight:400;color:#000;-webkit-text-stroke:0.35px #000;transform:scaleX(0.9269) scaleY(1.03)">3</span>
<span class="t" style="left:1063.87px;top:247.70px;font-size:35.5px;font-weight:400;color:#000;-webkit-text-stroke:0.35px #000;transform:scaleX(0.9269) scaleY(1.03)">6</span>
<span class="t cm" style="left:1080.86px;top:247.20px;font-size:35.5px;font-weight:400;color:#000;-webkit-text-stroke:0.35px #000;transform:scaleX(0.9269) scaleY(1.15)">,</span>
<span class="t" style="left:1091.31px;top:247.70px;font-size:35.5px;font-weight:400;color:#000;-webkit-text-stroke:0.35px #000;transform:scaleX(0.9269) scaleY(1.03)">6</span>
<span class="t" style="left:1109.61px;top:247.70px;font-size:35.5px;font-weight:400;color:#000;-webkit-text-stroke:0.35px #000;transform:scaleX(0.9269) scaleY(1.03)">5</span>
<span class="t" style="left:1127.90px;top:247.70px;font-size:35.5px;font-weight:400;color:#000;-webkit-text-stroke:0.35px #000;transform:scaleX(0.9269) scaleY(1.03)">2</span>
<span class="t" style="left:25.09px;top:298.88px;font-size:34.3px;font-weight:700;color:#000;-webkit-text-stroke:0.9px #000;transform:scaleX(0.7556) scaleY(1.03)">F</span>
<span class="t" style="left:43.20px;top:298.88px;font-size:34.3px;font-weight:700;color:#000;-webkit-text-stroke:0.9px #000;transform:scaleX(0.8000) scaleY(1.03)">L</span>
<span class="t" style="left:60.76px;top:298.88px;font-size:34.3px;font-weight:700;color:#000;-webkit-text-stroke:0.9px #000;transform:scaleX(0.9400) scaleY(1.03)">O</span>
<span class="t" style="left:88.20px;top:298.88px;font-size:34.3px;font-weight:700;color:#000;-webkit-text-stroke:0.9px #000;transform:scaleX(0.9000) scaleY(1.03)">R</span>
<span class="t" style="left:111.87px;top:298.88px;font-size:34.3px;font-weight:700;color:#000;-webkit-text-stroke:0.9px #000;transform:scaleX(0.8167) scaleY(1.03)">I</span>
<span class="t" style="left:121.85px;top:298.88px;font-size:34.3px;font-weight:700;color:#000;-webkit-text-stroke:0.9px #000;transform:scaleX(0.9773) scaleY(1.03)">D</span>
<span class="t" style="left:146.26px;top:298.88px;font-size:34.3px;font-weight:700;color:#000;-webkit-text-stroke:0.9px #000;transform:scaleX(1.0435) scaleY(1.03)">A</span>
<span class="t" style="left:629.09px;top:298.88px;font-size:34.3px;font-weight:700;color:#000;-webkit-text-stroke:0.9px #000;transform:scaleX(0.7556) scaleY(1.03)">F</span>
<span class="t" style="left:647.20px;top:298.88px;font-size:34.3px;font-weight:700;color:#000;-webkit-text-stroke:0.9px #000;transform:scaleX(0.8000) scaleY(1.03)">L</span>
<span class="t" style="left:664.76px;top:298.88px;font-size:34.3px;font-weight:700;color:#000;-webkit-text-stroke:0.9px #000;transform:scaleX(0.9400) scaleY(1.03)">O</span>
<span class="t" style="left:692.20px;top:298.88px;font-size:34.3px;font-weight:700;color:#000;-webkit-text-stroke:0.9px #000;transform:scaleX(0.9000) scaleY(1.03)">R</span>
<span class="t" style="left:715.87px;top:298.88px;font-size:34.3px;font-weight:700;color:#000;-webkit-text-stroke:0.9px #000;transform:scaleX(0.8167) scaleY(1.03)">I</span>
<span class="t" style="left:725.85px;top:298.88px;font-size:34.3px;font-weight:700;color:#000;-webkit-text-stroke:0.9px #000;transform:scaleX(0.9773) scaleY(1.03)">D</span>
<span class="t" style="left:750.26px;top:298.88px;font-size:34.3px;font-weight:700;color:#000;-webkit-text-stroke:0.9px #000;transform:scaleX(1.0435) scaleY(1.03)">A</span>
<span class="t" style="left:314.50px;top:299.25px;font-size:35.5px;font-weight:400;color:#000;-webkit-text-stroke:0.3px #000;transform:scaleX(0.6842) scaleY(1.03)">$</span>
<span class="t" style="left:331.80px;top:299.40px;font-size:35.5px;font-weight:400;color:#000;-webkit-text-stroke:0.35px #000;transform:scaleX(0.9269) scaleY(1.03)">2</span>
<span class="t cm" style="left:348.79px;top:298.90px;font-size:35.5px;font-weight:400;color:#000;-webkit-text-stroke:0.35px #000;transform:scaleX(0.9269) scaleY(1.15)">,</span>
<span class="t" style="left:359.24px;top:299.40px;font-size:35.5px;font-weight:400;color:#000;-webkit-text-stroke:0.35px #000;transform:scaleX(0.9269) scaleY(1.03)">6</span>
<span class="t" style="left:377.54px;top:299.40px;font-size:35.5px;font-weight:400;color:#000;-webkit-text-stroke:0.35px #000;transform:scaleX(0.9269) scaleY(1.03)">3</span>
<span class="t one" style="left:395.83px;top:299.40px;font-size:35.5px;font-weight:400;color:#000;-webkit-text-stroke:0.35px #000;transform:scaleX(0.9269) scaleY(1.03)">1</span>
<span class="t cm" style="left:412.83px;top:298.90px;font-size:35.5px;font-weight:400;color:#000;-webkit-text-stroke:0.35px #000;transform:scaleX(0.9269) scaleY(1.15)">,</span>
<span class="t" style="left:423.28px;top:299.40px;font-size:35.5px;font-weight:400;color:#000;-webkit-text-stroke:0.35px #000;transform:scaleX(0.9269) scaleY(1.03)">5</span>
<span class="t" style="left:441.57px;top:299.40px;font-size:35.5px;font-weight:400;color:#000;-webkit-text-stroke:0.35px #000;transform:scaleX(0.9269) scaleY(1.03)">2</span>
<span class="t" style="left:459.87px;top:299.40px;font-size:35.5px;font-weight:400;color:#000;-webkit-text-stroke:0.35px #000;transform:scaleX(0.9269) scaleY(1.03)">5</span>
<span class="t cm" style="left:476.86px;top:298.90px;font-size:35.5px;font-weight:400;color:#000;-webkit-text-stroke:0.35px #000;transform:scaleX(0.9269) scaleY(1.15)">,</span>
<span class="t one" style="left:487.31px;top:299.40px;font-size:35.5px;font-weight:400;color:#000;-webkit-text-stroke:0.35px #000;transform:scaleX(0.9269) scaleY(1.03)">1</span>
<span class="t" style="left:505.61px;top:299.40px;font-size:35.5px;font-weight:400;color:#000;-webkit-text-stroke:0.35px #000;transform:scaleX(0.9269) scaleY(1.03)">4</span>
<span class="t" style="left:523.90px;top:299.40px;font-size:35.5px;font-weight:400;color:#000;-webkit-text-stroke:0.35px #000;transform:scaleX(0.9269) scaleY(1.03)">7</span>
<span class="t" style="left:918.50px;top:299.25px;font-size:35.5px;font-weight:400;color:#000;-webkit-text-stroke:0.3px #000;transform:scaleX(0.6842) scaleY(1.03)">$</span>
<span class="t" style="left:935.80px;top:299.40px;font-size:35.5px;font-weight:400;color:#000;-webkit-text-stroke:0.35px #000;transform:scaleX(0.9269) scaleY(1.03)">4</span>
<span class="t cm" style="left:952.79px;top:298.90px;font-size:35.5px;font-weight:400;color:#000;-webkit-text-stroke:0.35px #000;transform:scaleX(0.9269) scaleY(1.15)">,</span>
<span class="t" style="left:963.24px;top:299.40px;font-size:35.5px;font-weight:400;color:#000;-webkit-text-stroke:0.35px #000;transform:scaleX(0.9269) scaleY(1.03)">2</span>
<span class="t" style="left:981.54px;top:299.40px;font-size:35.5px;font-weight:400;color:#000;-webkit-text-stroke:0.35px #000;transform:scaleX(0.9269) scaleY(1.03)">4</span>
<span class="t" style="left:999.83px;top:299.40px;font-size:35.5px;font-weight:400;color:#000;-webkit-text-stroke:0.35px #000;transform:scaleX(0.9269) scaleY(1.03)">7</span>
<span class="t cm" style="left:1016.83px;top:298.90px;font-size:35.5px;font-weight:400;color:#000;-webkit-text-stroke:0.35px #000;transform:scaleX(0.9269) scaleY(1.15)">,</span>
<span class="t" style="left:1027.28px;top:299.40px;font-size:35.5px;font-weight:400;color:#000;-webkit-text-stroke:0.35px #000;transform:scaleX(0.9269) scaleY(1.03)">0</span>
<span class="t" style="left:1045.57px;top:299.40px;font-size:35.5px;font-weight:400;color:#000;-webkit-text-stroke:0.35px #000;transform:scaleX(0.9269) scaleY(1.03)">0</span>
<span class="t" style="left:1063.87px;top:299.40px;font-size:35.5px;font-weight:400;color:#000;-webkit-text-stroke:0.35px #000;transform:scaleX(0.9269) scaleY(1.03)">7</span>
<span class="t cm" style="left:1080.86px;top:298.90px;font-size:35.5px;font-weight:400;color:#000;-webkit-text-stroke:0.35px #000;transform:scaleX(0.9269) scaleY(1.15)">,</span>
<span class="t" style="left:1091.31px;top:299.40px;font-size:35.5px;font-weight:400;color:#000;-webkit-text-stroke:0.35px #000;transform:scaleX(0.9269) scaleY(1.03)">2</span>
<span class="t" style="left:1109.61px;top:299.40px;font-size:35.5px;font-weight:400;color:#000;-webkit-text-stroke:0.35px #000;transform:scaleX(0.9269) scaleY(1.03)">6</span>
<span class="t" style="left:1127.90px;top:299.40px;font-size:35.5px;font-weight:400;color:#000;-webkit-text-stroke:0.35px #000;transform:scaleX(0.9269) scaleY(1.03)">8</span>
<span class="t" style="left:24.04px;top:350.18px;font-size:34.3px;font-weight:700;color:#000;-webkit-text-stroke:0.9px #000;transform:scaleX(1.0810) scaleY(1.03)">N</span>
<span class="t" style="left:53.22px;top:350.18px;font-size:34.3px;font-weight:700;color:#000;-webkit-text-stroke:0.9px #000;transform:scaleX(0.7400) scaleY(1.03)">E</span>
<span class="t" style="left:70.40px;top:350.18px;font-size:34.3px;font-weight:700;color:#000;-webkit-text-stroke:0.9px #000;transform:scaleX(1.0515) scaleY(1.03)">W</span>
<span class="t" style="left:115.80px;top:350.18px;font-size:34.3px;font-weight:700;color:#000;-webkit-text-stroke:0.9px #000;transform:scaleX(0.8957) scaleY(1.03)">Y</span>
<span class="t" style="left:136.74px;top:350.18px;font-size:34.3px;font-weight:700;color:#000;-webkit-text-stroke:0.9px #000;transform:scaleX(0.9560) scaleY(1.03)">O</span>
<span class="t" style="left:164.36px;top:350.18px;font-size:34.3px;font-weight:700;color:#000;-webkit-text-stroke:0.9px #000;transform:scaleX(0.9182) scaleY(1.03)">R</span>
<span class="t" style="left:187.10px;top:350.18px;font-size:34.3px;font-weight:700;color:#000;-webkit-text-stroke:0.9px #000;transform:scaleX(0.9000) scaleY(1.03)">K</span>
<span class="t" style="left:628.04px;top:350.18px;font-size:34.3px;font-weight:700;color:#000;-webkit-text-stroke:0.9px #000;transform:scaleX(1.0810) scaleY(1.03)">N</span>
<span class="t" style="left:657.22px;top:350.18px;font-size:34.3px;font-weight:700;color:#000;-webkit-text-stroke:0.9px #000;transform:scaleX(0.7400) scaleY(1.03)">E</span>
<span class="t" style="left:674.80px;top:350.18px;font-size:34.3px;font-weight:700;color:#000;-webkit-text-stroke:0.9px #000;transform:scaleX(1.0043) scaleY(1.03)">V</span>
<span class="t" style="left:697.47px;top:350.18px;font-size:34.3px;font-weight:700;color:#000;-webkit-text-stroke:0.9px #000;transform:scaleX(1.0261) scaleY(1.03)">A</span>
<span class="t" style="left:723.45px;top:350.18px;font-size:34.3px;font-weight:700;color:#000;-webkit-text-stroke:0.9px #000;transform:scaleX(0.9727) scaleY(1.03)">D</span>
<span class="t" style="left:747.88px;top:350.18px;font-size:34.3px;font-weight:700;color:#000;-webkit-text-stroke:0.9px #000;transform:scaleX(1.0217) scaleY(1.03)">A</span>
<span class="t" style="left:314.50px;top:350.55px;font-size:35.5px;font-weight:400;color:#000;-webkit-text-stroke:0.3px #000;transform:scaleX(0.6842) scaleY(1.03)">$</span>
<span class="t one" style="left:331.80px;top:350.70px;font-size:35.5px;font-weight:400;color:#000;-webkit-text-stroke:0.35px #000;transform:scaleX(0.9269) scaleY(1.03)">1</span>
<span class="t cm" style="left:348.79px;top:350.20px;font-size:35.5px;font-weight:400;color:#000;-webkit-text-stroke:0.35px #000;transform:scaleX(0.9269) scaleY(1.15)">,</span>
<span class="t" style="left:359.24px;top:350.70px;font-size:35.5px;font-weight:400;color:#000;-webkit-text-stroke:0.35px #000;transform:scaleX(0.9269) scaleY(1.03)">9</span>
<span class="t" style="left:377.54px;top:350.70px;font-size:35.5px;font-weight:400;color:#000;-webkit-text-stroke:0.35px #000;transform:scaleX(0.9269) scaleY(1.03)">0</span>
<span class="t" style="left:395.83px;top:350.70px;font-size:35.5px;font-weight:400;color:#000;-webkit-text-stroke:0.35px #000;transform:scaleX(0.9269) scaleY(1.03)">4</span>
<span class="t cm" style="left:412.83px;top:350.20px;font-size:35.5px;font-weight:400;color:#000;-webkit-text-stroke:0.35px #000;transform:scaleX(0.9269) scaleY(1.15)">,</span>
<span class="t" style="left:423.28px;top:350.70px;font-size:35.5px;font-weight:400;color:#000;-webkit-text-stroke:0.35px #000;transform:scaleX(0.9269) scaleY(1.03)">8</span>
<span class="t" style="left:441.57px;top:350.70px;font-size:35.5px;font-weight:400;color:#000;-webkit-text-stroke:0.35px #000;transform:scaleX(0.9269) scaleY(1.03)">6</span>
<span class="t" style="left:459.87px;top:350.70px;font-size:35.5px;font-weight:400;color:#000;-webkit-text-stroke:0.35px #000;transform:scaleX(0.9269) scaleY(1.03)">2</span>
<span class="t cm" style="left:476.86px;top:350.20px;font-size:35.5px;font-weight:400;color:#000;-webkit-text-stroke:0.35px #000;transform:scaleX(0.9269) scaleY(1.15)">,</span>
<span class="t" style="left:487.31px;top:350.70px;font-size:35.5px;font-weight:400;color:#000;-webkit-text-stroke:0.35px #000;transform:scaleX(0.9269) scaleY(1.03)">9</span>
<span class="t one" style="left:505.61px;top:350.70px;font-size:35.5px;font-weight:400;color:#000;-webkit-text-stroke:0.35px #000;transform:scaleX(0.9269) scaleY(1.03)">1</span>
<span class="t" style="left:523.90px;top:350.70px;font-size:35.5px;font-weight:400;color:#000;-webkit-text-stroke:0.35px #000;transform:scaleX(0.9269) scaleY(1.03)">4</span>
<span class="t" style="left:918.50px;top:350.55px;font-size:35.5px;font-weight:400;color:#000;-webkit-text-stroke:0.3px #000;transform:scaleX(0.6842) scaleY(1.03)">$</span>
<span class="t" style="left:935.80px;top:350.70px;font-size:35.5px;font-weight:400;color:#000;-webkit-text-stroke:0.35px #000;transform:scaleX(0.9269) scaleY(1.03)">3</span>
<span class="t cm" style="left:952.79px;top:350.20px;font-size:35.5px;font-weight:400;color:#000;-webkit-text-stroke:0.35px #000;transform:scaleX(0.9269) scaleY(1.15)">,</span>
<span class="t" style="left:963.24px;top:350.70px;font-size:35.5px;font-weight:400;color:#000;-webkit-text-stroke:0.35px #000;transform:scaleX(0.9269) scaleY(1.03)">7</span>
<span class="t" style="left:981.54px;top:350.70px;font-size:35.5px;font-weight:400;color:#000;-webkit-text-stroke:0.35px #000;transform:scaleX(0.9269) scaleY(1.03)">4</span>
<span class="t one" style="left:999.83px;top:350.70px;font-size:35.5px;font-weight:400;color:#000;-webkit-text-stroke:0.35px #000;transform:scaleX(0.9269) scaleY(1.03)">1</span>
<span class="t cm" style="left:1016.83px;top:350.20px;font-size:35.5px;font-weight:400;color:#000;-webkit-text-stroke:0.35px #000;transform:scaleX(0.9269) scaleY(1.15)">,</span>
<span class="t" style="left:1027.28px;top:350.70px;font-size:35.5px;font-weight:400;color:#000;-webkit-text-stroke:0.35px #000;transform:scaleX(0.9269) scaleY(1.03)">4</span>
<span class="t" style="left:1045.57px;top:350.70px;font-size:35.5px;font-weight:400;color:#000;-webkit-text-stroke:0.35px #000;transform:scaleX(0.9269) scaleY(1.03)">6</span>
<span class="t" style="left:1063.87px;top:350.70px;font-size:35.5px;font-weight:400;color:#000;-webkit-text-stroke:0.35px #000;transform:scaleX(0.9269) scaleY(1.03)">7</span>
<span class="t cm" style="left:1080.86px;top:350.20px;font-size:35.5px;font-weight:400;color:#000;-webkit-text-stroke:0.35px #000;transform:scaleX(0.9269) scaleY(1.15)">,</span>
<span class="t" style="left:1091.31px;top:350.70px;font-size:35.5px;font-weight:400;color:#000;-webkit-text-stroke:0.35px #000;transform:scaleX(0.9269) scaleY(1.03)">5</span>
<span class="t" style="left:1109.61px;top:350.70px;font-size:35.5px;font-weight:400;color:#000;-webkit-text-stroke:0.35px #000;transform:scaleX(0.9269) scaleY(1.03)">0</span>
<span class="t" style="left:1127.90px;top:350.70px;font-size:35.5px;font-weight:400;color:#000;-webkit-text-stroke:0.35px #000;transform:scaleX(0.9269) scaleY(1.03)">2</span>
<span class="t" style="left:24.30px;top:401.88px;font-size:34.3px;font-weight:700;color:#000;-webkit-text-stroke:0.9px #000;transform:scaleX(0.9238) scaleY(1.03)">T</span>
<span class="t" style="left:46.14px;top:401.88px;font-size:34.3px;font-weight:700;color:#000;-webkit-text-stroke:0.9px #000;transform:scaleX(0.7300) scaleY(1.03)">E</span>
<span class="t" style="left:62.60px;top:401.88px;font-size:34.3px;font-weight:700;color:#000;-webkit-text-stroke:0.9px #000;transform:scaleX(1.0304) scaleY(1.03)">X</span>
<span class="t" style="left:85.77px;top:401.88px;font-size:34.3px;font-weight:700;color:#000;-webkit-text-stroke:0.9px #000;transform:scaleX(1.0261) scaleY(1.03)">A</span>
<span class="t" style="left:111.82px;top:401.88px;font-size:34.3px;font-weight:700;color:#000;-webkit-text-stroke:0.9px #000;transform:scaleX(0.7810) scaleY(1.03)">S</span>
<span class="t" style="left:628.30px;top:401.88px;font-size:34.3px;font-weight:700;color:#000;-webkit-text-stroke:0.9px #000;transform:scaleX(0.9238) scaleY(1.03)">T</span>
<span class="t" style="left:650.14px;top:401.88px;font-size:34.3px;font-weight:700;color:#000;-webkit-text-stroke:0.9px #000;transform:scaleX(0.7300) scaleY(1.03)">E</span>
<span class="t" style="left:666.60px;top:401.88px;font-size:34.3px;font-weight:700;color:#000;-webkit-text-stroke:0.9px #000;transform:scaleX(1.0304) scaleY(1.03)">X</span>
<span class="t" style="left:689.77px;top:401.88px;font-size:34.3px;font-weight:700;color:#000;-webkit-text-stroke:0.9px #000;transform:scaleX(1.0261) scaleY(1.03)">A</span>
<span class="t" style="left:715.82px;top:401.88px;font-size:34.3px;font-weight:700;color:#000;-webkit-text-stroke:0.9px #000;transform:scaleX(0.7810) scaleY(1.03)">S</span>
<span class="t" style="left:314.50px;top:402.25px;font-size:35.5px;font-weight:400;color:#000;-webkit-text-stroke:0.3px #000;transform:scaleX(0.6842) scaleY(1.03)">$</span>
<span class="t one" style="left:331.80px;top:402.40px;font-size:35.5px;font-weight:400;color:#000;-webkit-text-stroke:0.35px #000;transform:scaleX(0.9269) scaleY(1.03)">1</span>
<span class="t cm" style="left:348.79px;top:401.90px;font-size:35.5px;font-weight:400;color:#000;-webkit-text-stroke:0.35px #000;transform:scaleX(0.9269) scaleY(1.15)">,</span>
<span class="t" style="left:359.24px;top:402.40px;font-size:35.5px;font-weight:400;color:#000;-webkit-text-stroke:0.35px #000;transform:scaleX(0.9269) scaleY(1.03)">3</span>
<span class="t" style="left:377.54px;top:402.40px;font-size:35.5px;font-weight:400;color:#000;-webkit-text-stroke:0.35px #000;transform:scaleX(0.9269) scaleY(1.03)">0</span>
<span class="t" style="left:395.83px;top:402.40px;font-size:35.5px;font-weight:400;color:#000;-webkit-text-stroke:0.35px #000;transform:scaleX(0.9269) scaleY(1.03)">4</span>
<span class="t cm" style="left:412.83px;top:401.90px;font-size:35.5px;font-weight:400;color:#000;-webkit-text-stroke:0.35px #000;transform:scaleX(0.9269) scaleY(1.15)">,</span>
<span class="t" style="left:423.28px;top:402.40px;font-size:35.5px;font-weight:400;color:#000;-webkit-text-stroke:0.35px #000;transform:scaleX(0.9269) scaleY(1.03)">5</span>
<span class="t" style="left:441.57px;top:402.40px;font-size:35.5px;font-weight:400;color:#000;-webkit-text-stroke:0.35px #000;transform:scaleX(0.9269) scaleY(1.03)">2</span>
<span class="t" style="left:459.87px;top:402.40px;font-size:35.5px;font-weight:400;color:#000;-webkit-text-stroke:0.35px #000;transform:scaleX(0.9269) scaleY(1.03)">0</span>
<span class="t cm" style="left:476.86px;top:401.90px;font-size:35.5px;font-weight:400;color:#000;-webkit-text-stroke:0.35px #000;transform:scaleX(0.9269) scaleY(1.15)">,</span>
<span class="t" style="left:487.31px;top:402.40px;font-size:35.5px;font-weight:400;color:#000;-webkit-text-stroke:0.35px #000;transform:scaleX(0.9269) scaleY(1.03)">8</span>
<span class="t" style="left:505.61px;top:402.40px;font-size:35.5px;font-weight:400;color:#000;-webkit-text-stroke:0.35px #000;transform:scaleX(0.9269) scaleY(1.03)">9</span>
<span class="t" style="left:523.90px;top:402.40px;font-size:35.5px;font-weight:400;color:#000;-webkit-text-stroke:0.35px #000;transform:scaleX(0.9269) scaleY(1.03)">4</span>
<span class="t" style="left:918.50px;top:402.25px;font-size:35.5px;font-weight:400;color:#000;-webkit-text-stroke:0.3px #000;transform:scaleX(0.6842) scaleY(1.03)">$</span>
<span class="t" style="left:935.80px;top:402.40px;font-size:35.5px;font-weight:400;color:#000;-webkit-text-stroke:0.35px #000;transform:scaleX(0.9269) scaleY(1.03)">2</span>
<span class="t cm" style="left:952.79px;top:401.90px;font-size:35.5px;font-weight:400;color:#000;-webkit-text-stroke:0.35px #000;transform:scaleX(0.9269) scaleY(1.15)">,</span>
<span class="t" style="left:963.24px;top:402.40px;font-size:35.5px;font-weight:400;color:#000;-webkit-text-stroke:0.35px #000;transform:scaleX(0.9269) scaleY(1.03)">5</span>
<span class="t" style="left:981.54px;top:402.40px;font-size:35.5px;font-weight:400;color:#000;-webkit-text-stroke:0.35px #000;transform:scaleX(0.9269) scaleY(1.03)">4</span>
<span class="t" style="left:999.83px;top:402.40px;font-size:35.5px;font-weight:400;color:#000;-webkit-text-stroke:0.35px #000;transform:scaleX(0.9269) scaleY(1.03)">3</span>
<span class="t cm" style="left:1016.83px;top:401.90px;font-size:35.5px;font-weight:400;color:#000;-webkit-text-stroke:0.35px #000;transform:scaleX(0.9269) scaleY(1.15)">,</span>
<span class="t" style="left:1027.28px;top:402.40px;font-size:35.5px;font-weight:400;color:#000;-webkit-text-stroke:0.35px #000;transform:scaleX(0.9269) scaleY(1.03)">8</span>
<span class="t" style="left:1045.57px;top:402.40px;font-size:35.5px;font-weight:400;color:#000;-webkit-text-stroke:0.35px #000;transform:scaleX(0.9269) scaleY(1.03)">4</span>
<span class="t" style="left:1063.87px;top:402.40px;font-size:35.5px;font-weight:400;color:#000;-webkit-text-stroke:0.35px #000;transform:scaleX(0.9269) scaleY(1.03)">5</span>
<span class="t cm" style="left:1080.86px;top:401.90px;font-size:35.5px;font-weight:400;color:#000;-webkit-text-stroke:0.35px #000;transform:scaleX(0.9269) scaleY(1.15)">,</span>
<span class="t" style="left:1091.31px;top:402.40px;font-size:35.5px;font-weight:400;color:#000;-webkit-text-stroke:0.35px #000;transform:scaleX(0.9269) scaleY(1.03)">5</span>
<span class="t" style="left:1109.61px;top:402.40px;font-size:35.5px;font-weight:400;color:#000;-webkit-text-stroke:0.35px #000;transform:scaleX(0.9269) scaleY(1.03)">6</span>
<span class="t" style="left:1127.90px;top:402.40px;font-size:35.5px;font-weight:400;color:#000;-webkit-text-stroke:0.35px #000;transform:scaleX(0.9269) scaleY(1.03)">6</span>
</div>
</body></html>
